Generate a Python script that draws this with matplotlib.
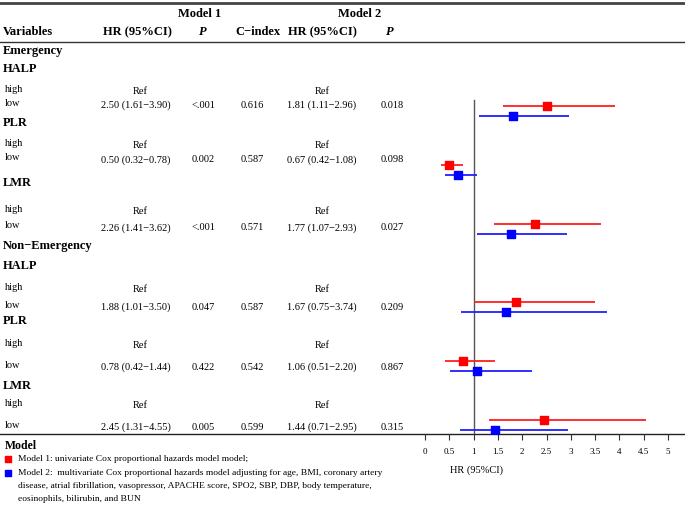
import numpy as np
import matplotlib.pyplot as plt

plt.rcParams['font.family'] = ['Liberation Serif', 'DejaVu Serif']

# table content
groups = ['Emergency', 'Non\u2212Emergency']
markers_ = ['HALP', 'PLR', 'LMR', 'HALP', 'PLR', 'LMR']
m1_hr = [2.50, 0.50, 2.26, 1.88, 0.78, 2.45]
m1_lo = [1.61, 0.32, 1.41, 1.01, 0.42, 1.31]
m1_hi = [3.90, 0.78, 3.62, 3.50, 1.44, 4.55]
m1_p = ['<.001', '0.002', '<.001', '0.047', '0.422', '0.005']
m1_c = ['0.616', '0.587', '0.571', '0.587', '0.542', '0.599']
m2_hr = [1.81, 0.67, 1.77, 1.67, 1.06, 1.44]
m2_lo = [1.11, 0.42, 1.07, 0.75, 0.51, 0.71]
m2_hi = [2.96, 1.08, 2.93, 3.74, 2.20, 2.95]
m2_p = ['0.018', '0.098', '0.027', '0.209', '0.867', '0.315']
ticks = np.arange(0, 5.01, 0.5)
tick_labels = ['0', '0.5', '1', '1.5', '2', '2.5', '3', '3.5', '4', '4.5', '5']

# layout (pixel rows from top)
group_y = [51, 246]
marker_y = [69, 123, 183, 266, 321, 386]
high_y = [91, 146, 211, 289, 345, 406]
low_y = [105, 160, 228, 307, 367, 427]
red_y = [106, 165, 224, 302, 361, 420]
blue_y = [116, 175, 234, 312, 371, 430]

W, H = 685, 508
fig = plt.figure(figsize=(W / 100, H / 100), dpi=100)

# text layer in pixel coordinates
tx = fig.add_axes([0, 0, 1, 1])
tx.set_xlim(0, W)
tx.set_ylim(H, 0)
tx.axis('off')

fs = 7.5
bfs = 9
tx.plot([0, W], [3, 3], color='#444444', lw=2)
tx.plot([0, W], [42, 42], color='#333333', lw=1)
tx.plot([0, W], [434, 434], color='#222222', lw=1)

tx.text(200, 14, 'Model 1', ha='center', va='center', fontsize=bfs, weight='bold')
tx.text(360, 14, 'Model 2', ha='center', va='center', fontsize=bfs, weight='bold')
tx.text(3, 32, 'Variables', ha='left', va='center', fontsize=bfs, weight='bold')
tx.text(137, 32, 'HR (95%CI)', ha='center', va='center', fontsize=bfs, weight='bold')
tx.text(203, 32, 'P', ha='center', va='center', fontsize=bfs, weight='bold', style='italic')
tx.text(258, 32, 'C\u2212index', ha='center', va='center', fontsize=bfs, weight='bold')
tx.text(322, 32, 'HR (95%CI)', ha='center', va='center', fontsize=bfs, weight='bold')
tx.text(390, 32, 'P', ha='center', va='center', fontsize=bfs, weight='bold', style='italic')

for g, gy in zip(groups, group_y):
    tx.text(3, gy, g, ha='left', va='center', fontsize=bfs, weight='bold')

for i in range(6):
    tx.text(3, marker_y[i], markers_[i], ha='left', va='center', fontsize=bfs, weight='bold')
    tx.text(5, high_y[i] - 2, 'high', ha='left', va='center', fontsize=fs)
    tx.text(5, low_y[i] - 2, 'low', ha='left', va='center', fontsize=fs)
    tx.text(140, high_y[i], 'Ref', ha='center', va='center', fontsize=fs)
    tx.text(322, high_y[i], 'Ref', ha='center', va='center', fontsize=fs)
    tx.text(136, low_y[i], f'{m1_hr[i]:.2f} ({m1_lo[i]:.2f}\u2212{m1_hi[i]:.2f})',
            ha='center', va='center', fontsize=fs)
    tx.text(203, low_y[i], m1_p[i], ha='center', va='center', fontsize=fs)
    tx.text(252, low_y[i], m1_c[i], ha='center', va='center', fontsize=fs)
    tx.text(322, low_y[i], f'{m2_hr[i]:.2f} ({m2_lo[i]:.2f}\u2212{m2_hi[i]:.2f})',
            ha='center', va='center', fontsize=fs)
    tx.text(392, low_y[i], m2_p[i], ha='center', va='center', fontsize=fs)

# legend
lfs = 6.8
tx.text(5, 446, 'Model', ha='left', va='center', fontsize=8.5, weight='bold')
tx.scatter([8], [459], marker='s', s=24, color='#ff0000')
tx.scatter([8], [473], marker='s', s=24, color='#0000ff')
tx.text(18, 459, 'Model 1: univariate Cox proportional hazards model model;',
        ha='left', va='center', fontsize=lfs)
tx.text(18, 473, 'Model 2:  multivariate Cox proportional hazards model adjusting for age, BMI, coronary artery',
        ha='left', va='center', fontsize=lfs)
tx.text(18, 486, 'disease, atrial fibrillation, vasopressor, APACHE score, SPO2, SBP, DBP, body temperature,',
        ha='left', va='center', fontsize=lfs)
tx.text(18, 499, 'eosinophils, bilirubin, and BUN', ha='left', va='center', fontsize=lfs)
tx.text(477, 470, 'HR (95%CI)', ha='center', va='center', fontsize=7.5)

# forest plot
x0, x1 = 400, 685
top, bot = 42, 434
ax = fig.add_axes([x0 / W, 1 - bot / H, (x1 - x0) / W, (bot - top) / H])
ax.patch.set_alpha(0)
px_per_unit = (668 - 425) / 5
ax.set_xlim((x0 - 425) / px_per_unit, (x1 - 425) / px_per_unit)
ax.set_ylim(bot, top)
for s in ['top', 'right', 'left', 'bottom']:
    ax.spines[s].set_visible(False)
ax.set_yticks([])
ax.set_xticks(ticks)
ax.set_xticklabels(tick_labels, fontsize=6.5)
ax.tick_params(axis='x', length=4, width=0.8, color='#333333', pad=6)

ax.plot([1, 1], [100, bot], color='#555555', lw=1)
ax.hlines(red_y, m1_lo, m1_hi, color='#ff2020', lw=1.3)
ax.hlines(blue_y, m2_lo, m2_hi, color='#2020ff', lw=1.3)
ax.scatter(m1_hr, red_y, marker='s', s=30, color='#ff0000', zorder=3)
ax.scatter(m2_hr, blue_y, marker='s', s=30, color='#0000ff', zorder=3)

fig.savefig('out.png', dpi=100)
